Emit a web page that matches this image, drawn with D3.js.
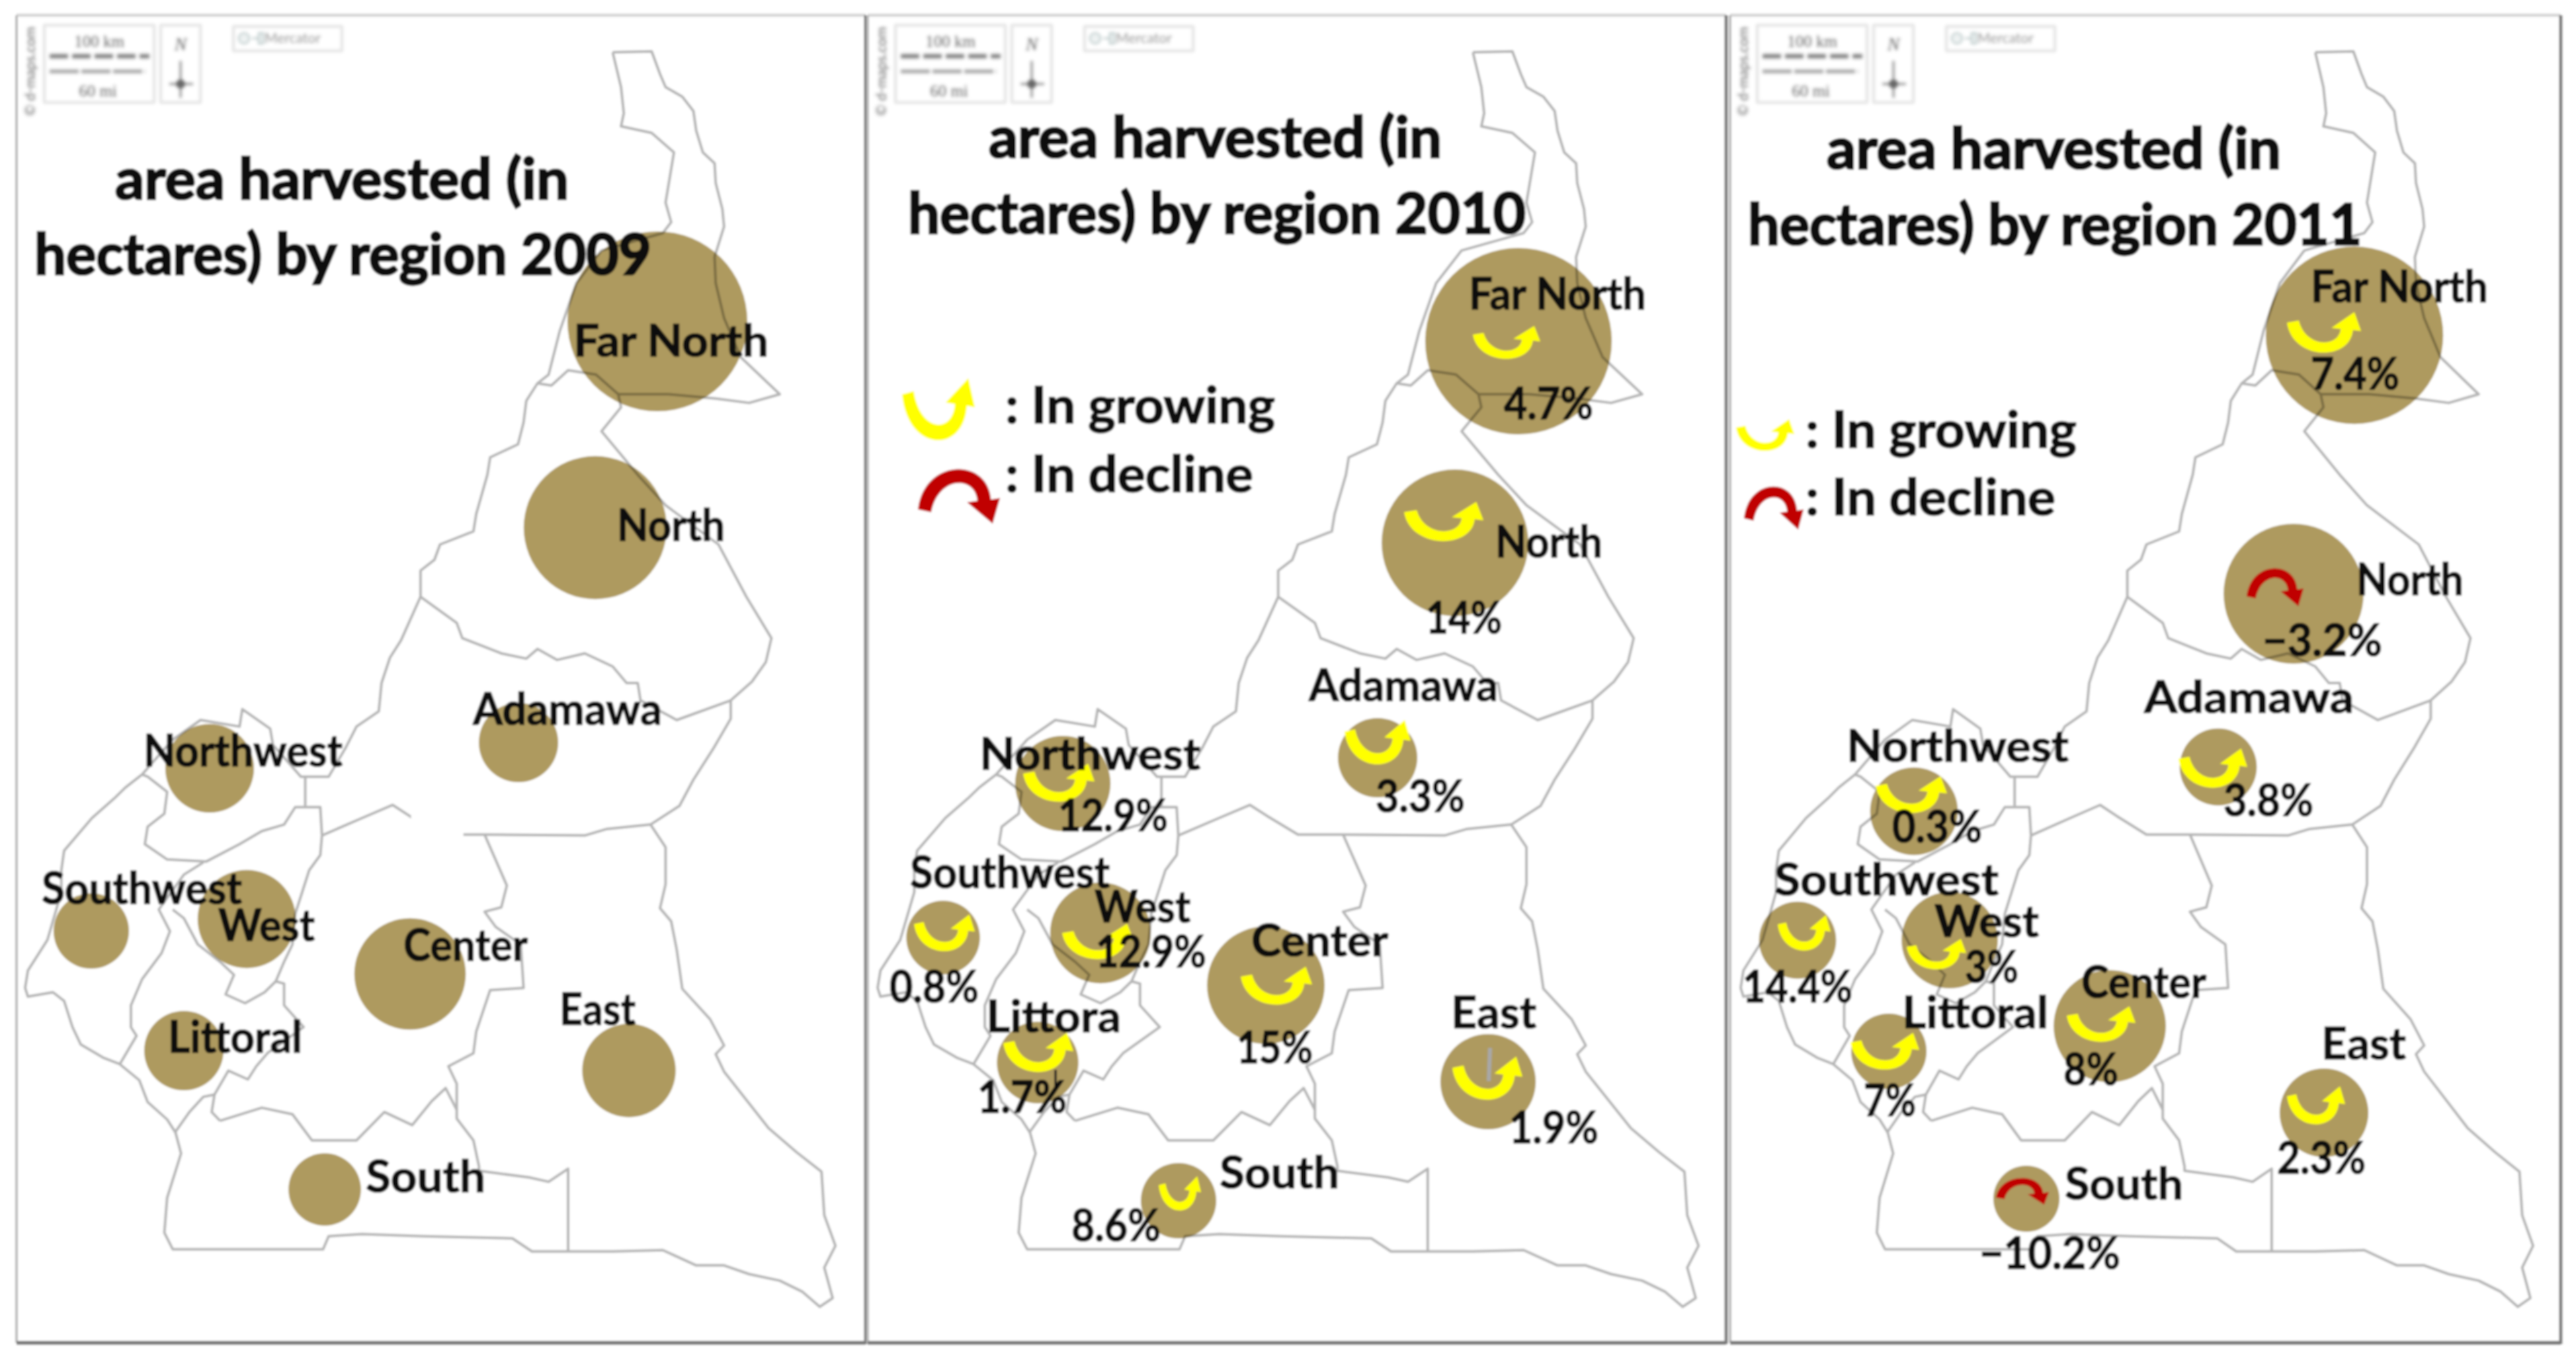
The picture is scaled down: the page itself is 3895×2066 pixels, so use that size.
<!DOCTYPE html>
<html>
<head>
<meta charset="utf-8">
<title>area harvested by region</title>
<script src="https://cdn.jsdelivr.net/npm/d3@7/dist/d3.min.js"></script>
<style>
  html, body { margin: 0; background: #fff; overflow: hidden; }
  svg { display: block; }
  text { font-family: Lato, "Open Sans", sans-serif; fill: #0a0a0a; stroke: #0a0a0a; paint-order: stroke; }
</style>
</head>
<body>
<script>
// values (area in rough relative units)
var regions = ["Far North", "North", "Adamawa", "Northwest", "Southwest", "West", "Center", "Littoral", "East", "South"];
var labels2010 = ["Far North", "North", "Adamawa", "Northwest", "Southwest", "West", "Center", "Littora", "East", "South"];
var area2009 = [185, 117, 36, 45, 32.5, 55, 71, 36, 50, 30];
var area2010 = [199, 123, 36, 52, 31, 58, 79, 38, 52, 32.5];
var area2011 = [180, 112, 34, 44, 34, 53, 72, 32.5, 45, 25];
var change2010 = [4.7, 14, 3.3, 12.9, 0.8, 12.9, 15, 1.7, 1.9, 8.6];
var change2011 = [7.4, -3.2, 3.8, 0.3, 14.4, 3, 8, 7, 2.3, -10.2];
var titleTop = "area harvested (in";
var titleBottom = "hectares) by region ";
var legendUp = ": In growing";
var legendDown = ": In decline";

// map outline, in tracing units
var countryOutline = [[1100,120],[1170,118],[1185,170],[1195,200],[1225,222],[1245,255],[1250,300],[1262,350],[1283,375],[1285,420],[1297,480],[1300,520],[1283,590],[1285,650],[1300,730],[1330,820],[1400,905],[1345,925],[1285,915],[1200,905],[1110,905],[1115,935],[1080,990],[1145,1090],[1195,1160],[1290,1250],[1340,1370],[1385,1465],[1375,1520],[1350,1565],[1312,1608],[1312,1650],[1280,1720],[1245,1790],[1220,1850],[1168,1893],[1195,1945],[1195,2030],[1185,2085],[1205,2115],[1215,2180],[1225,2270],[1275,2340],[1300,2400],[1285,2420],[1300,2460],[1380,2590],[1430,2645],[1475,2690],[1480,2790],[1500,2860],[1480,2910],[1495,2980],[1472,3000],[1440,2965],[1400,2940],[1345,2925],[1300,2905],[1250,2905],[1190,2870],[1100,2873],[955,2873],[920,2843],[760,2838],[650,2833],[590,2838],[580,2868],[310,2868],[295,2830],[300,2750],[325,2648],[315,2600],[300,2570],[265,2530],[250,2480],[215,2443],[185,2428],[145,2398],[130,2358],[115,2298],[95,2278],[50,2288],[45,2268],[50,2228],[85,2158],[110,2048],[110,1998],[115,1953],[165,1878],[205,1833],[225,1808],[255,1778],[310,1698],[360,1653],[430,1668],[435,1628],[485,1673],[490,1710],[540,1783],[590,1783],[620,1718],[640,1668],[680,1633],[685,1568],[700,1510],[720,1470],[755,1370],[755,1310],[780,1285],[790,1250],[850,1220],[855,1180],[875,1090],[880,1050],[930,1020],[940,970],[945,920],[965,880],[985,860],[1005,760],[1035,650],[1080,575],[1190,535],[1205,510],[1195,465],[1210,350],[1170,305],[1115,290],[1120,260],[1115,200],[1100,120]];
var farNorthSouth = [[965,880],[990,885],[1020,850],[1070,860],[1110,905]];
var adamawaNorth = [[755,1370],[820,1430],[830,1465],[900,1500],[945,1512],[965,1490],[1000,1515],[1050,1500],[1100,1530],[1125,1568],[1145,1568],[1150,1608],[1215,1653],[1312,1608]];
var adamawaSouth = [[1168,1893],[1090,1903],[1050,1918],[870,1916],[790,1916],[735,1873],[705,1848],[650,1878],[578,1918]];
var northwestEdge = [[548,1783],[548,1850]];
var northwestSouth = [[578,1918],[575,1853],[530,1853],[510,1893],[470,1908],[430,1938],[370,1978],[300,1973],[260,1938],[265,1898],[295,1868],[300,1818],[265,1783],[255,1778]];
var southwestEast = [[365,1980],[330,2008],[285,2088],[305,2138],[290,2188],[255,2248],[235,2308],[235,2358],[245,2378],[215,2443]];
var westSouth = [[310,2088],[330,2108],[355,2168],[395,2208],[420,2238],[405,2283],[440,2303],[475,2278],[495,2253],[510,2258],[510,2308],[545,2358],[480,2418],[460,2448],[445,2478],[410,2458],[385,2513],[380,2553],[395,2573]];
var littoralSouth = [[315,2598],[340,2553],[365,2518],[385,2513]];
var westEast = [[578,1918],[575,1963],[555,1998],[530,2098],[525,2168],[510,2208],[495,2253]];
var centerSouth = [[395,2573],[470,2543],[525,2558],[560,2618],[640,2618],[690,2553],[740,2583],[775,2528],[800,2498],[820,2548],[820,2568],[850,2618],[860,2678],[860,2688],[950,2703],[985,2713],[1020,2683],[1020,2873]];
var centerEast = [[870,1916],[910,2033],[900,2083],[870,2093],[890,2128],[935,2168],[940,2268],[880,2273],[855,2368],[850,2418],[805,2448],[820,2488],[820,2548]];
var mapLines = [countryOutline, farNorthSouth, adamawaNorth, adamawaSouth, northwestEdge, northwestSouth, southwestEast, westSouth, littoralSouth, westEast, centerSouth, centerEast];

// layout of each panel
var centers2009 = [[994,486],[900,798],[784,1123],[317,1162],[138,1408],[373,1390],[620,1473],[278,1589],[951,1619],[491,1799]];
var centers2010 = [[2296,516],[2200,821],[2083,1146],[1607,1185],[1426,1418],[1664,1411],[1914,1490],[1569,1607],[2250,1636],[1782,1816]];
var centers2011 = [[3560,507],[3468,898],[3354,1160],[2894,1227],[2718,1422],[2948,1422],[3190,1552],[2856,1590],[3514,1683],[3064,1813]];
var labelPos2009 = [[867,539,295],[933,818,163],[715,1096,286],[217,1159,301],[63,1367,303],[330,1423,146],[610,1453,188],[254,1592,203],[846,1550,115],[553,1803,181]];
var labelPos2010 = [[2221,468,268],[2261,843,162],[1979,1060,286],[1481,1164,334],[1376,1343,302],[1655,1395,145],[1892,1446,207],[1491,1561,204],[2194,1555,129],[1844,1797,181]];
var labelPos2011 = [[3494,457,268],[3563,900,162],[3242,1078,317],[2792,1152,336],[2683,1354,339],[2925,1417,158],[3147,1509,189],[2876,1555,221],[3510,1602,128],[3122,1814,179]];
var changePos2010 = [[2274,634,135],[2156,958,115],[2080,1228,135],[1600,1257,166],[1345,1516,135],[1657,1463,167],[1870,1608,115],[1478,1683,135],[2282,1729,135],[1620,1877,135]];
var changePos2011 = [[3494,589,134],[3421,992,181],[3362,1234,136],[2861,1274,136],[2635,1516,166],[2971,1486,81],[3120,1641,83],[2818,1688,79],[3443,1775,134],[2993,1919,213]];
var arrowBox2010 = [[2278,519,51,26],[2183,790,60,31],[2083,1124,50,35],[1601,1185,54,30],[1428,1412,46,29],[1660,1425,54,28],[1930,1492,54,30],[1570,1593,53,31],[2249,1632,53,34],[1784,1806,32,27]];
var arrowBox2011 = [[3514,504,56,32],[3440,887,43,30],[3346,1163,52,31],[2890,1203,54,29],[2728,1412,40,28],[2928,1444,45,24],[3177,1550,52,28],[2850,1591,52,29],[3502,1673,44,30],[3058,1801,40,21]];

var panels = [
  {year: 2009, names: regions, area: area2009, centers: centers2009, labels: labelPos2009, left: 25, right: 1309,
   mapRange: [38, 1259], inset: 0, title: [[174,301,686],[52,415,933]]},
  {year: 2010, names: labels2010, area: area2010, change: change2010, centers: centers2010, labels: labelPos2010,
   changes: changePos2010, arrows: arrowBox2010, left: 1312, right: 2610, mapRange: [1327, 2564], inset: 1287,
   title: [[1495,238,685],[1373,353,934]],
   legend: [[1419,621,55,49,1520,640,408],[1450,749,62,43,1520,744,375]]},
  {year: 2011, names: regions, area: area2011, change: change2011, centers: centers2011, labels: labelPos2011,
   changes: changePos2011, arrows: arrowBox2011, left: 2616, right: 3872, mapRange: [2632, 3826], inset: 2590,
   title: [[2762,255,687],[2643,370,928]],
   legend: [[2669,659,44,25,2730,677,410],[2682,767,45,34,2730,779,378]]}
];

var width = 3895, height = 2066;
var radius = d3.scaleSqrt().domain([0, 200]).range([0, 141.4]);
var mapY = d3.scaleLinear().domain([0, 3136]).range([0, 2066]);
var outline = "#b4b4b4", bubble = "#ae9a5f", up = "#ffff00", down = "#c00000";

var svg = d3.select("body").append("svg").attr("width", width).attr("height", height);
var defs = svg.append("defs");
function addBlur(id, amount) {
  defs.append("filter").attr("id", id)
      .attr("filterUnits", "userSpaceOnUse")
      .attr("x", 0).attr("y", 0).attr("width", width).attr("height", height)
    .append("feGaussianBlur").attr("stdDeviation", amount);
}
addBlur("soft", 1.5);
addBlur("softer", 2.2);
var root = svg.append("g").attr("filter", "url(#soft)");
root.append("rect").attr("width", width).attr("height", height).attr("fill", "#fff");

function putText(g, str, p, size, heavy) {
  return g.append("text").attr("x", p[0]).attr("y", p[1])
      .attr("textLength", p[2]).attr("lengthAdjust", "spacingAndGlyphs")
      .attr("font-size", size).attr("font-weight", 700).attr("stroke-width", heavy).text(str);
}

function formatChange(v) {
  return String(v).replace("-", "\u2212") + "%";
}

// curved arrow, yellow opens upward, red is the same shape flipped
function drawArrow(g, box, v) {
  var x = d3.scaleLinear().domain([-1, 1]).range([box[0] - box[2], box[0] + box[2]]);
  var y = d3.scaleLinear().domain([-1, 1]).range(v >= 0 ? [box[1] - box[3], box[1] + box[3]] : [box[1] + box[3], box[1] - box[3]]);
  var p = d3.path();
  p.moveTo(x(-1), y(-0.5));
  p.lineTo(x(-0.68), y(-0.6));
  p.bezierCurveTo(x(-0.5), y(0.7), x(0.4), y(0.7), x(0.45), y(-0.2));
  p.lineTo(x(0.2), y(-0.25));
  p.lineTo(x(0.82), y(-1));
  p.lineTo(x(1), y(-0.1));
  p.lineTo(x(0.78), y(-0.15));
  p.bezierCurveTo(x(0.7), y(1.35), x(-0.85), y(1.3), x(-1), y(-0.5));
  p.closePath();
  g.append("path").attr("d", p.toString()).attr("fill", v >= 0 ? up : down);
}

function drawFrame(g, d) {
  g.append("line").attr("x1", d.left).attr("x2", d.right).attr("y1", 23).attr("y2", 23).attr("stroke", "#d8d8d8").attr("stroke-width", 5);
  g.append("line").attr("x1", d.left).attr("x2", d.left).attr("y1", 23).attr("y2", 2031).attr("stroke", "#bbb").attr("stroke-width", 4);
  g.append("line").attr("x1", d.right).attr("x2", d.right).attr("y1", 23).attr("y2", 2033).attr("stroke", "#7a7a7a").attr("stroke-width", 5);
  g.append("line").attr("x1", d.left).attr("x2", d.right).attr("y1", 2031).attr("y2", 2031).attr("stroke", "#7a7a7a").attr("stroke-width", 6);
}

// the d-maps scale box, compass and projection tag
function drawInset(g, dx) {
  var c = g.append("g").attr("transform", "translate(" + dx + ",0)").attr("filter", "url(#softer)");
  var box = [[67,38,166,117],[243,38,60,117],[353,40,164,37]];
  c.selectAll("rect").data(box).enter().append("rect")
      .attr("x", function(b) { return b[0]; }).attr("y", function(b) { return b[1]; })
      .attr("width", function(b) { return b[2]; }).attr("height", function(b) { return b[3]; })
      .attr("fill", "none").attr("stroke", "#d9d9d9").attr("stroke-width", 3);
  function small(x, y, s, size) {
    return c.append("text").attr("x", x).attr("y", y).attr("text-anchor", "middle").attr("stroke-width", 0)
        .style("font-family", "'Liberation Serif', serif").style("fill", "#666").attr("font-size", size).text(s);
  }
  small(150, 71, "100 km", 25);
  small(148, 146, "60 mi", 25);
  small(273, 76, "N", 28).style("font-style", "italic");
  small(0, 0, "\u00a9 d-maps.com", 21).attr("transform", "translate(53,108) rotate(-90)").style("font-family", "Lato, sans-serif");
  c.append("text").attr("x", 400).attr("y", 65).attr("font-size", 21).attr("stroke-width", 0).style("fill", "#999").text("Mercator");
  c.append("line").attr("x1", 75).attr("x2", 226).attr("y1", 85).attr("y2", 85).attr("stroke", "#888").attr("stroke-width", 7).attr("stroke-dasharray", "28 6");
  c.append("line").attr("x1", 75).attr("x2", 220).attr("y1", 108).attr("y2", 108).attr("stroke", "#aaa").attr("stroke-width", 6).attr("stroke-dasharray", "44 4");
  c.append("line").attr("x1", 273).attr("x2", 273).attr("y1", 92).attr("y2", 148).attr("stroke", "#888").attr("stroke-width", 3);
  c.append("line").attr("x1", 256).attr("x2", 292).attr("y1", 127).attr("y2", 127).attr("stroke", "#888").attr("stroke-width", 3);
  c.append("circle").attr("cx", 273).attr("cy", 127).attr("r", 7).attr("fill", "#666");
  c.append("circle").attr("cx", 369).attr("cy", 58).attr("r", 8).attr("fill", "#eef3f3").attr("stroke", "#aabbbb").attr("stroke-width", 2);
  c.append("line").attr("x1", 381).attr("x2", 391).attr("y1", 58).attr("y2", 58).attr("stroke", "#aabbbb").attr("stroke-width", 2);
  c.append("rect").attr("x", 391).attr("y", 50).attr("width", 7).attr("height", 16).attr("fill", "#eef3f3").attr("stroke", "#aabbbb").attr("stroke-width", 2);
}

panels.forEach(function(d) {
  var g = root.append("g").attr("class", "panel");
  var x = d3.scaleLinear().domain([45, 1495]).range(d.mapRange);
  var line = d3.line().x(function(p) { return x(p[0]); }).y(function(p) { return mapY(p[1]); });

  drawFrame(g, d);
  drawInset(g, d.inset);

  g.selectAll("path.border").data(mapLines).enter().append("path")
      .attr("class", "border").attr("d", line)
      .attr("fill", "none").attr("stroke", outline).attr("stroke-width", 4).attr("stroke-linejoin", "round");

  // 2009 has a piece of border lost behind a text box
  if (d.year === 2009) {
    g.append("rect").attr("x", x(738)).attr("y", mapY(1868)).attr("width", x(832) - x(738)).attr("height", mapY(1932) - mapY(1868)).attr("fill", "#fff");
  }

  g.selectAll("circle.bubble").data(d.area).enter().append("circle")
      .attr("class", "bubble")
      .attr("cx", function(v, i) { return d.centers[i][0]; })
      .attr("cy", function(v, i) { return d.centers[i][1]; })
      .attr("r", function(v) { return radius(v); })
      .attr("fill", bubble).style("mix-blend-mode", "multiply");

  // stray marks in the 2010 panel
  if (d.year === 2010) {
    g.append("line").attr("x1", 2253).attr("x2", 2251).attr("y1", 1585).attr("y2", 1635).attr("stroke", "#a8a8a8").attr("stroke-width", 6);
    g.append("line").attr("x1", 1596).attr("x2", 1596).attr("y1", 1618).attr("y2", 1648).attr("stroke", "#222").attr("stroke-width", 4);
  }

  if (d.change) {
    d.change.forEach(function(v, i) { drawArrow(g, d.arrows[i], v); });
    d.change.forEach(function(v, i) { putText(g, formatChange(v), d.changes[i], 66, 1.2); });
  }
  d.names.forEach(function(n, i) { putText(g, n, d.labels[i], 66, 1.2); });

  putText(g, titleTop, d.title[0], 86, 3);
  putText(g, titleBottom + d.year, d.title[1], 86, 3);

  if (d.legend) {
    drawArrow(g, d.legend[0], 1);
    drawArrow(g, d.legend[1], -1);
    putText(g, legendUp, d.legend[0].slice(4), 76, 1.6);
    putText(g, legendDown, d.legend[1].slice(4), 76, 1.6);
  }
});
</script>
</body>
</html>
